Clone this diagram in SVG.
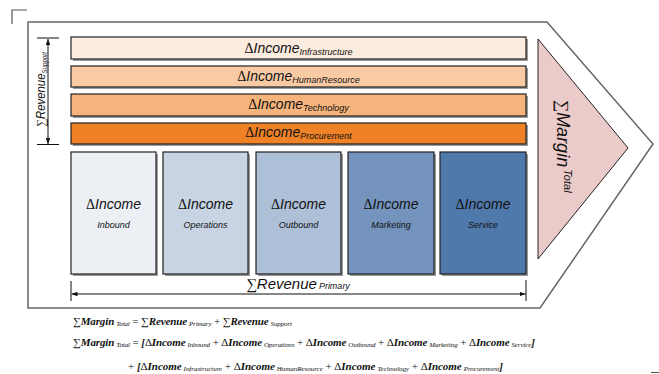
<svg xmlns="http://www.w3.org/2000/svg" width="659" height="374" viewBox="0 0 659 374">
<defs>
<style>
.bar{stroke:#222;stroke-width:1.2}
.box{stroke:#222;stroke-width:1.2}
.sh{fill:#9a9a9a}
.t{font-family:"Liberation Sans",Arial,sans-serif;font-style:italic;fill:#111}
.g{font-family:"Liberation Serif","Times New Roman",serif;font-style:normal}
.m{font-size:14px}
.s{font-size:9px}
.f{font-family:"Liberation Serif","Times New Roman",serif;font-style:italic;font-weight:bold;font-size:11px;fill:#111}
.fs{font-size:7px;font-weight:normal}
.fn{font-style:normal;font-weight:normal}
.ln{stroke:#111;stroke-width:1;fill:none}
</style>
<marker id="ah" viewBox="0 0 8 6" refX="8" refY="3" markerWidth="6" markerHeight="4.5" orient="auto-start-reverse" markerUnits="userSpaceOnUse">
<path d="M0,0 L8,3 L0,6 z" fill="#111"/>
</marker>
</defs>
<rect width="659" height="374" fill="#fff"/>
<path d="M12,24 V10 H27" fill="none" stroke="#555" stroke-width="1.2"/>
<line x1="651" y1="372.5" x2="659" y2="372.5" stroke="#555" stroke-width="1"/>

<g id="frame">
<path d="M28,22 H547 L653,144 L540,308 H28 Z" fill="#fff" stroke="#666" stroke-width="1.5"/>
</g>

<g id="margin">
<path d="M538,39 L628,148 L538,259 Z" fill="#ebcaca" stroke="#222" stroke-width="1"/>
<text class="t" transform="translate(557,100) rotate(90)"><tspan class="g" font-size="17">∑</tspan><tspan font-size="18">Margin</tspan><tspan font-size="11" dx="2" dy="-7">Total</tspan></text>
</g>

<g id="bar-infrastructure">
<rect class="sh" x="73" y="39" width="455" height="22"/>
<rect class="bar" x="71" y="37" width="455" height="22" fill="#fcece0"/>
<text class="t" x="298.5" y="53" text-anchor="middle"><tspan class="g m">Δ</tspan><tspan class="m">Income</tspan><tspan class="s" dy="2">Infrastructure</tspan></text>
</g>
<g id="bar-humanresource">
<rect class="sh" x="73" y="68" width="455" height="21"/>
<rect class="bar" x="71" y="66" width="455" height="21" fill="#f9cba5"/>
<text class="t" x="298.5" y="81" text-anchor="middle"><tspan class="g m">Δ</tspan><tspan class="m">Income</tspan><tspan class="s" dy="2">HumanResource</tspan></text>
</g>
<g id="bar-technology">
<rect class="sh" x="73" y="96" width="455" height="22"/>
<rect class="bar" x="71" y="94" width="455" height="22" fill="#f6b47c"/>
<text class="t" x="298.5" y="109" text-anchor="middle"><tspan class="g m">Δ</tspan><tspan class="m">Income</tspan><tspan class="s" dy="2">Technology</tspan></text>
</g>
<g id="bar-procurement">
<rect class="sh" x="73" y="125" width="455" height="21"/>
<rect class="bar" x="71" y="123" width="455" height="21" fill="#ef8227"/>
<text class="t" x="298.5" y="137" text-anchor="middle"><tspan class="g m">Δ</tspan><tspan class="m">Income</tspan><tspan class="s" dy="2">Procurement</tspan></text>
</g>

<g id="box-inbound">
<rect class="sh" x="73" y="154" width="85" height="122"/>
<rect class="box" x="71" y="152" width="85" height="122" fill="#eceff4"/>
<text class="t m" x="113.5" y="209" text-anchor="middle"><tspan class="g">Δ</tspan>Income</text>
<text class="t s" x="113.5" y="228" text-anchor="middle">Inbound</text>
</g>
<g id="box-operations">
<rect class="sh" x="165" y="154" width="85" height="122"/>
<rect class="box" x="163" y="152" width="85" height="122" fill="#c8d4e4"/>
<text class="t m" x="205.5" y="209" text-anchor="middle"><tspan class="g">Δ</tspan>Income</text>
<text class="t s" x="205.5" y="228" text-anchor="middle">Operations</text>
</g>
<g id="box-outbound">
<rect class="sh" x="258" y="154" width="85" height="122"/>
<rect class="box" x="256" y="152" width="85" height="122" fill="#aebfd8"/>
<text class="t m" x="298.5" y="209" text-anchor="middle"><tspan class="g">Δ</tspan>Income</text>
<text class="t s" x="298.5" y="228" text-anchor="middle">Outbound</text>
</g>
<g id="box-marketing">
<rect class="sh" x="350" y="154" width="86" height="122"/>
<rect class="box" x="348" y="152" width="86" height="122" fill="#7494bd"/>
<text class="t m" x="391" y="209" text-anchor="middle"><tspan class="g">Δ</tspan>Income</text>
<text class="t s" x="391" y="228" text-anchor="middle">Marketing</text>
</g>
<g id="box-service">
<rect class="sh" x="442" y="154" width="86" height="122"/>
<rect class="box" x="440" y="152" width="86" height="122" fill="#4f78ab"/>
<text class="t m" x="483" y="209" text-anchor="middle"><tspan class="g">Δ</tspan>Income</text>
<text class="t s" x="483" y="228" text-anchor="middle">Service</text>
</g>

<g id="connectors">
<line class="ln" x1="37" y1="38" x2="59" y2="38"/>
<line class="ln" x1="37" y1="144.5" x2="59" y2="144.5"/>
<line class="ln" x1="48" y1="39" x2="48" y2="144" marker-start="url(#ah)" marker-end="url(#ah)"/>
<line class="ln" x1="71" y1="281" x2="71" y2="301"/>
<line class="ln" x1="526" y1="280" x2="526" y2="301"/>
<line class="ln" x1="71.5" y1="294" x2="525.5" y2="294" marker-start="url(#ah)" marker-end="url(#ah)"/>
</g>

<g id="label-support">
<text class="t" transform="translate(45,127) rotate(-90)" textLength="75" lengthAdjust="spacingAndGlyphs"><tspan class="g" font-size="12">∑</tspan><tspan font-size="12">Revenue</tspan><tspan font-size="6.5" dy="2">Support</tspan></text>
</g>
<g id="label-primary">
<text class="t" x="298" y="289" text-anchor="middle"><tspan class="g" font-size="15">∑</tspan><tspan font-size="15">Revenue</tspan><tspan font-size="9" dx="2">Primary</tspan></text>
</g>

<g id="formulas">
<text class="f" x="73" y="325" textLength="219" lengthAdjust="spacing"><tspan class="fn">∑</tspan>Margin<tspan class="fs" dx="2" dy="1">Total</tspan><tspan class="fn" dy="-1"> = ∑</tspan>Revenue<tspan class="fs" dx="2" dy="1">Primary</tspan><tspan class="fn" dy="-1"> + ∑</tspan>Revenue<tspan class="fs" dx="2" dy="1">Support</tspan></text>
<text class="f" x="73" y="346" textLength="462" lengthAdjust="spacing"><tspan class="fn">∑</tspan>Margin<tspan class="fs" dx="2" dy="1">Total</tspan><tspan class="fn" dy="-1"> = </tspan>[<tspan class="fn">Δ</tspan>Income<tspan class="fs" dx="2" dy="1">Inbound</tspan><tspan class="fn" dy="-1"> + Δ</tspan>Income<tspan class="fs" dx="2" dy="1">Operations</tspan><tspan class="fn" dy="-1"> + Δ</tspan>Income<tspan class="fs" dx="2" dy="1">Outbound</tspan><tspan class="fn" dy="-1"> + Δ</tspan>Income<tspan class="fs" dx="2" dy="1">Marketing</tspan><tspan class="fn" dy="-1"> + Δ</tspan>Income<tspan class="fs" dx="2" dy="1">Service</tspan><tspan dy="-1">]</tspan></text>
<text class="f" x="128" y="370" textLength="375" lengthAdjust="spacing"><tspan class="fn">+ </tspan>[<tspan class="fn">Δ</tspan>Income<tspan class="fs" dx="2" dy="1">Infrastructure</tspan><tspan class="fn" dy="-1"> + Δ</tspan>Income<tspan class="fs" dx="2" dy="1">HumanResource</tspan><tspan class="fn" dy="-1"> + Δ</tspan>Income<tspan class="fs" dx="2" dy="1">Technology</tspan><tspan class="fn" dy="-1"> + Δ</tspan>Income<tspan class="fs" dx="2" dy="1">Procurement</tspan><tspan dy="-1">]</tspan></text>
</g>
</svg>
